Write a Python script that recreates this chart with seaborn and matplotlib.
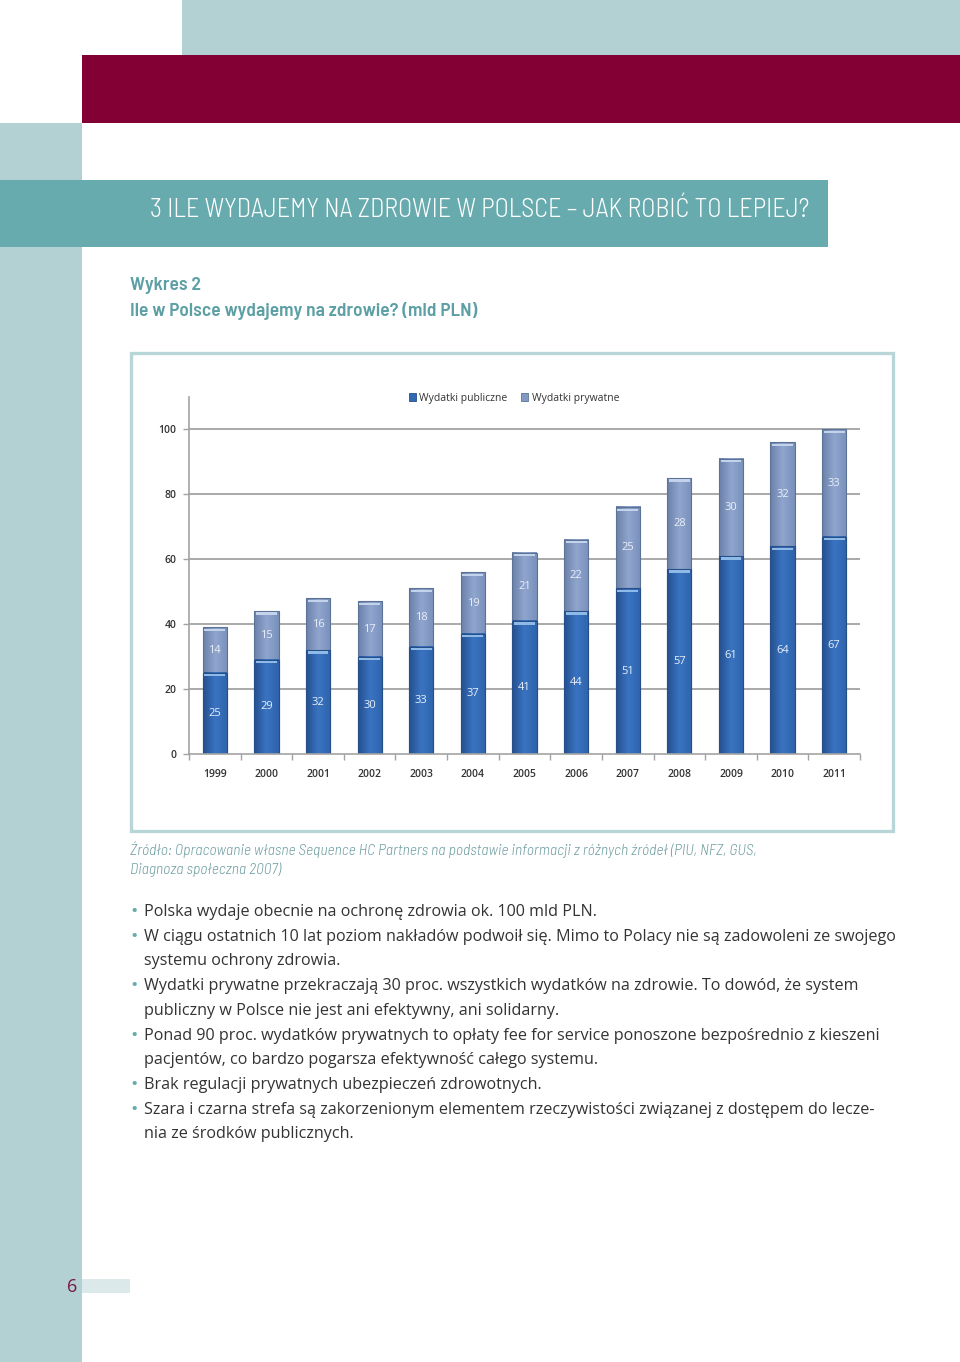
import numpy as np
import pandas as pd
import matplotlib
matplotlib.use("Agg")
import matplotlib.pyplot as plt
from matplotlib.patches import Rectangle, Patch
from matplotlib.colors import LinearSegmentedColormap
import seaborn as sns

# ---------------- data ----------------
years = ["1999", "2000", "2001", "2002", "2003", "2004", "2005",
         "2006", "2007", "2008", "2009", "2010", "2011"]
public = [25, 29, 32, 30, 33, 37, 41, 44, 51, 57, 61, 64, 67]
private = [14, 15, 16, 17, 18, 19, 21, 22, 25, 28, 30, 32, 33]
y_ticks = [0, 20, 40, 60, 80, 100]
legend_labels = ["Wydatki publiczne", "Wydatki prywatne"]

page_title = "3 ILE WYDAJEMY NA ZDROWIE W POLSCE – JAK ROBIĆ TO LEPIEJ?"
chart_kicker = "Wykres 2"
chart_title = "Ile w Polsce wydajemy na zdrowie? (mld PLN)"
source_lines = [
    "Źródło: Opracowanie własne Sequence HC Partners na podstawie informacji z różnych źródeł (PIU, NFZ, GUS,",
    "Diagnoza społeczna 2007)",
]
bullets = [
    ["Polska wydaje obecnie na ochronę zdrowia ok. 100 mld PLN."],
    ["W ciągu ostatnich 10 lat poziom nakładów podwoił się. Mimo to Polacy nie są zadowoleni ze swojego",
     "systemu ochrony zdrowia."],
    ["Wydatki prywatne przekraczają 30 proc. wszystkich wydatków na zdrowie. To dowód, że system",
     "publiczny w Polsce nie jest ani efektywny, ani solidarny."],
    ["Ponad 90 proc. wydatków prywatnych to opłaty fee for service ponoszone bezpośrednio z kieszeni",
     "pacjentów, co bardzo pogarsza efektywność całego systemu."],
    ["Brak regulacji prywatnych ubezpieczeń zdrowotnych."],
    ["Szara i czarna strefa są zakorzenionym elementem rzeczywistości związanej z dostępem do lecze-",
     "nia ze środków publicznych."],
]
page_number = "6"

# ---------------- style ----------------
sns.set_style("white")
plt.rcParams["font.family"] = ["Open Sans", "DejaVu Sans"]

W, H = 960, 1362
fig = plt.figure(figsize=(W / 100, H / 100), dpi=100)
fig.patch.set_facecolor("white")


def fx(px):
    return px / W


def fy(py):
    return 1 - py / H


def rect(x0, y0, x1, y1, **kw):
    r = Rectangle((fx(x0), fy(y1)), fx(x1) - fx(x0), fy(y0) - fy(y1),
                  transform=fig.transFigure, **kw)
    fig.add_artist(r)
    return r


LIGHT_TEAL = "#b3d0d3"
MAROON = "#830035"
TEAL = "#68abae"
TEXT_TEAL = "#5c9fa4"
COND = ["Barlow Semi Condensed", "DejaVu Sans"]

# page decorations
rect(182, 0, 960, 55, facecolor=LIGHT_TEAL, edgecolor="none", zorder=0)
rect(82, 55, 960, 123, facecolor=MAROON, edgecolor="none", zorder=0)
rect(0, 123, 82, 1362, facecolor=LIGHT_TEAL, edgecolor="none", zorder=0)
rect(0, 180, 828, 247, facecolor=TEAL, edgecolor="none", zorder=1)
rect(82, 1279, 130, 1293, facecolor="#dbe9ea", edgecolor="none", zorder=1)

fig.text(fx(150), fy(210), page_title, color="white", fontsize=18.9,
         family=COND, fontweight=300, va="center", ha="left")
fig.text(fx(130), fy(286), chart_kicker, color=TEXT_TEAL, fontsize=14,
         family=COND, fontweight=600, va="center", ha="left")
fig.text(fx(130), fy(311), chart_title, color=TEXT_TEAL, fontsize=14,
         family=COND, fontweight=600, va="center", ha="left")

# chart frame
rect(131, 353, 893, 831, facecolor="white", edgecolor="#b8d6d8",
     linewidth=2.4, zorder=1)

# ---------------- chart ----------------
PUB = "#3068b2"
PRIV = "#8299c3"
ax = fig.add_axes([fx(189), fy(754), fx(860) - fx(189), fy(397) - fy(754)])
ax.set_facecolor("none")
ax.set_zorder(3)

df = pd.DataFrame({"year": years, "public": public, "private": private})
df["total"] = df["public"] + df["private"]

bw = 0.47
sns.barplot(data=df, x="year", y="total", color=PRIV, saturation=1,
            width=bw, edgecolor="#5d7396", linewidth=0.8, errorbar=None,
            ax=ax)
sns.barplot(data=df, x="year", y="public", color=PUB, saturation=1,
            width=bw, edgecolor="#274f87", linewidth=0.8, errorbar=None,
            ax=ax)

xs = np.arange(len(years))
pub_arr = np.array(public, dtype=float)
tot_arr = df["total"].to_numpy(dtype=float)

# horizontal shading inside the bars (darker edges, lighter centre)
cm_pub = LinearSegmentedColormap.from_list("pub", ["#24508f", "#3a74c2", "#2d63ab"])
cm_priv = LinearSegmentedColormap.from_list("priv", ["#6a80a8", "#90a6cf", "#7990bb"])
grad = np.linspace(0, 1, 64).reshape(1, -1)
for p_tot, p_pub, pv, tv in zip(ax.containers[0].patches,
                                ax.containers[1].patches, pub_arr, tot_arr):
    x0 = p_tot.get_x()
    x1 = x0 + p_tot.get_width()
    ax.imshow(grad, cmap=cm_priv, extent=[x0, x1, pv, tv], aspect="auto",
              zorder=2.0, interpolation="bicubic")
    ax.imshow(grad, cmap=cm_pub, extent=[x0, x1, 0, pv], aspect="auto",
              zorder=2.0, interpolation="bicubic")
    for p in (p_tot, p_pub):
        p.set_facecolor("none")
        p.set_zorder(2.5)

# light highlights at the top of each segment
ax.bar(xs, 0.7, bottom=pub_arr - 1.1, width=bw * 0.86, color="#8fb9e6",
       zorder=3, linewidth=0)
ax.bar(xs, 0.7, bottom=tot_arr - 1.1, width=bw * 0.86, color="#c3d3ec",
       zorder=3, linewidth=0)

LABEL_C = "#e9eff8"
for i in range(len(years)):
    ax.text(xs[i], public[i] / 2, str(public[i]), ha="center", va="center",
            color=LABEL_C, fontsize=8, zorder=4)
    ax.text(xs[i], public[i] + private[i] / 2, str(private[i]), ha="center",
            va="center", color=LABEL_C, fontsize=8, zorder=4)

ax.set_xlim(-0.5, len(years) - 0.5)
ax.set_ylim(0, 110)
ax.set_yticks(y_ticks)
ax.set_yticklabels([str(t) for t in y_ticks])
ax.set_xticks(xs)
ax.set_xticklabels(years)
ax.set_xlabel("")
ax.set_ylabel("")
for yv in y_ticks[1:]:
    ax.axhline(yv, color="#a3a3a3", linewidth=1.3, zorder=1)

for s in ["top", "right"]:
    ax.spines[s].set_visible(False)
for s in ["left", "bottom"]:
    ax.spines[s].set_color("#a3a3a3")
    ax.spines[s].set_linewidth(1.2)

ax.tick_params(axis="y", length=4, width=1, color="#a3a3a3", pad=5,
               labelsize=7.5, labelcolor="#333333", left=True)
ax.tick_params(axis="x", length=0, pad=11, labelsize=7.5,
               labelcolor="#333333")
ax.set_xticks(np.arange(-0.5, len(years)), minor=True)
ax.tick_params(axis="x", which="minor", length=4, width=1,
               color="#a3a3a3", bottom=True)
for lab in ax.get_xticklabels() + ax.get_yticklabels():
    lab.set_fontweight("semibold")

handles = [Patch(facecolor=PUB, edgecolor="#274f87", linewidth=0.6),
           Patch(facecolor=PRIV, edgecolor="#5d7396", linewidth=0.6)]
fig.legend(handles, legend_labels, loc="center",
           bbox_to_anchor=(fx(514), fy(398)), ncol=2, frameon=False,
           fontsize=7.5, handlelength=0.7, handleheight=0.7,
           handletextpad=0.3, columnspacing=1.3, labelcolor="#333333")

# ---------------- texts below ----------------
SRC_C = "#6f9ea2"
for i, line in enumerate(source_lines):
    fig.text(fx(130), fy(850 + 19.5 * i), line, color=SRC_C, fontsize=11.2,
             family=COND, fontweight=300, style="italic", va="center",
             ha="left")

y = 912
step = 24.7
for item in bullets:
    fig.text(fx(134), fy(y), "•", color=TEAL, fontsize=14, va="center",
             ha="center")
    for line in item:
        fig.text(fx(144), fy(y), line, color="#333333", fontsize=11.6,
                 va="center", ha="left")
        y += step

fig.text(fx(72), fy(1287), page_number, color="#7a1548", fontsize=13,
         va="center", ha="center")

fig.savefig("out.png", dpi=100, facecolor="white")
